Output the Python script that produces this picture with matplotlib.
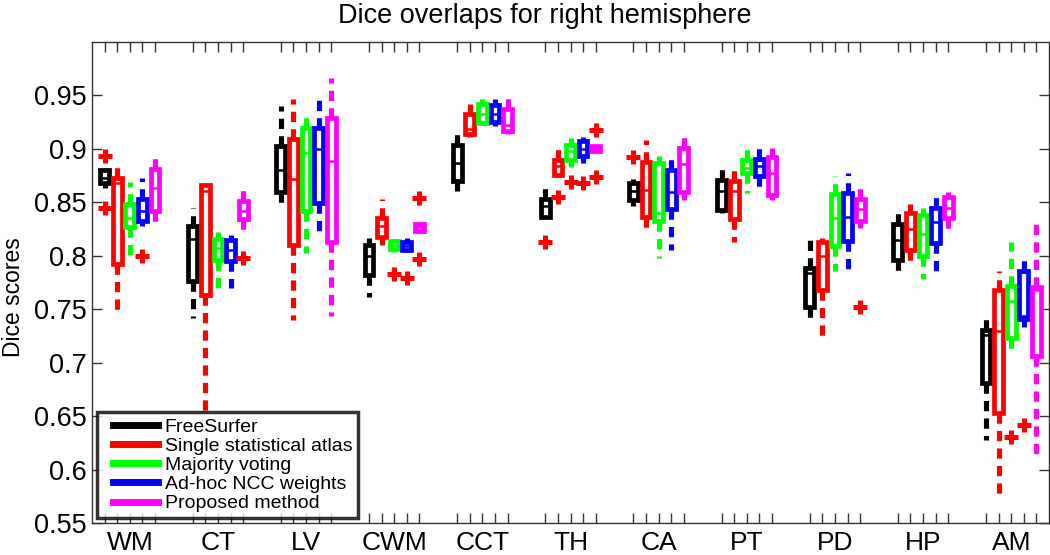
import matplotlib
matplotlib.use("Agg")
import matplotlib.pyplot as plt
from matplotlib.lines import Line2D
from matplotlib.legend_handler import HandlerLine2D

plt.rcParams['font.family'] = ['Liberation Sans', 'DejaVu Sans']

structures = ['WM', 'CT', 'LV', 'CWM', 'CCT', 'TH', 'CA', 'PT', 'PD', 'HP', 'AM']
methods = ['FreeSurfer', 'Single statistical atlas', 'Majority voting',
           'Ad-hoc NCC weights', 'Proposed method']
colors = ['#000000', '#ff0000', '#00ff00', '#0000ff', '#ff00ff']

# [whisker low, q1, median, q3, whisker high] per structure
freesurfer = [
    [0.863, 0.868, 0.873, 0.880, 0.882],
    [0.742, 0.776, 0.816, 0.828, 0.845],
    [0.849, 0.860, 0.880, 0.903, 0.940],
    [0.761, 0.782, 0.800, 0.810, 0.817],
    [0.861, 0.870, 0.887, 0.904, 0.914],
    [0.835, 0.836, 0.847, 0.853, 0.866],
    [0.847, 0.852, 0.861, 0.868, 0.872],
    [0.840, 0.843, 0.861, 0.871, 0.884],
    [0.740, 0.752, 0.784, 0.789, 0.817],
    [0.783, 0.796, 0.815, 0.830, 0.843],
    [0.628, 0.681, 0.726, 0.731, 0.746],
]
single_atlas = [
    [0.749, 0.792, 0.868, 0.873, 0.886],
    [0.655, 0.763, 0.861, 0.866, 0.868],
    [0.740, 0.810, 0.872, 0.909, 0.947],
    [0.810, 0.818, 0.828, 0.835, 0.853],
    [0.911, 0.914, 0.919, 0.933, 0.942],
    [0.875, 0.876, 0.884, 0.890, 0.903],
    [0.826, 0.836, 0.862, 0.888, 0.908],
    [0.813, 0.834, 0.861, 0.870, 0.881],
    [0.721, 0.768, 0.800, 0.813, 0.817],
    [0.790, 0.805, 0.825, 0.840, 0.848],
    [0.576, 0.653, 0.730, 0.768, 0.786],
]
majority = [
    [0.795, 0.827, 0.835, 0.848, 0.869],
    [0.770, 0.796, 0.807, 0.816, 0.822],
    [0.803, 0.842, 0.896, 0.920, 0.934],
    [0.804, 0.806, 0.810, 0.814, 0.816],
    [0.922, 0.924, 0.933, 0.942, 0.947],
    [0.883, 0.890, 0.898, 0.904, 0.910],
    [0.798, 0.833, 0.840, 0.887, 0.893],
    [0.859, 0.877, 0.882, 0.890, 0.903],
    [0.786, 0.809, 0.835, 0.858, 0.875],
    [0.778, 0.800, 0.820, 0.838, 0.845],
    [0.709, 0.723, 0.758, 0.772, 0.813],
]
adhoc_ncc = [
    [0.828, 0.833, 0.842, 0.853, 0.873],
    [0.770, 0.795, 0.805, 0.815, 0.819],
    [0.817, 0.849, 0.900, 0.920, 0.948],
    [0.804, 0.805, 0.809, 0.813, 0.817],
    [0.921, 0.925, 0.933, 0.941, 0.947],
    [0.887, 0.893, 0.900, 0.907, 0.911],
    [0.805, 0.844, 0.860, 0.880, 0.896],
    [0.859, 0.875, 0.884, 0.891, 0.903],
    [0.788, 0.814, 0.836, 0.859, 0.877],
    [0.785, 0.812, 0.832, 0.845, 0.855],
    [0.733, 0.741, 0.744, 0.786, 0.800],
]
proposed = [
    [0.828, 0.842, 0.863, 0.881, 0.892],
    [0.822, 0.834, 0.842, 0.851, 0.863],
    [0.744, 0.813, 0.889, 0.929, 0.966],
    [0.822, 0.823, 0.827, 0.830, 0.831],
    [0.914, 0.917, 0.922, 0.937, 0.948],
    [0.897, 0.898, 0.900, 0.903, 0.904],
    [0.852, 0.860, 0.886, 0.901, 0.917],
    [0.852, 0.857, 0.877, 0.892, 0.901],
    [0.826, 0.833, 0.844, 0.853, 0.868],
    [0.825, 0.835, 0.845, 0.855, 0.860],
    [0.615, 0.706, 0.768, 0.771, 0.833],
]
all_stats = [freesurfer, single_atlas, majority, adhoc_ncc, proposed]

# outliers: (structure index, method index, value)
outliers = [
    (0, 0, 0.893), (0, 0, 0.845), (0, 3, 0.800),
    (1, 4, 0.798),
    (3, 2, 0.783), (3, 3, 0.779), (3, 4, 0.854), (3, 4, 0.797),
    (5, 0, 0.813), (5, 1, 0.855), (5, 2, 0.869), (5, 3, 0.868),
    (5, 4, 0.874), (5, 4, 0.918),
    (6, 0, 0.892),
    (8, 4, 0.752),
    (10, 2, 0.630), (10, 3, 0.642),
]

fig = plt.figure(figsize=(10.5, 5.55), dpi=100)
ax = fig.add_axes([92 / 1050, 32 / 555, 957 / 1050, 481 / 555])

n_methods = len(methods)
group_step = n_methods + 2
for m, (stats_m, col) in enumerate(zip(all_stats, colors)):
    positions = []
    bstats = []
    for g, row in enumerate(stats_m):
        lo, q1, med, q3, hi = row
        fl = [v for (gi, mi, v) in outliers if gi == g and mi == m]
        bstats.append(dict(whislo=lo, q1=q1, med=med, q3=q3, whishi=hi, fliers=fl))
        positions.append(g * group_step + m + 1)
    ax.bxp(bstats, positions=positions, widths=0.7, patch_artist=True,
           showcaps=False, manage_ticks=False,
           boxprops=dict(facecolor='white', edgecolor=col, linewidth=3.4),
           whiskerprops=dict(color=col, linewidth=3.7, linestyle=(0, (2.0, 1.4))),
           medianprops=dict(color=col, linewidth=1.8),
           flierprops=dict(marker='+', markeredgecolor='#ff0000', markersize=9.5,
                           markeredgewidth=3.6, linestyle='none'))

ax.set_xlim(0, len(structures) * group_step - 1)
ax.set_ylim(0.55, 1.0)

ticks = []
labels = []
for g, name in enumerate(structures):
    for m in range(n_methods):
        ticks.append(g * group_step + m + 1)
        labels.append(name if m == n_methods // 2 else '')
ax.set_xticks(ticks)
ax.set_xticklabels(labels, fontsize=19)
ax.set_yticks([0.55, 0.6, 0.65, 0.7, 0.75, 0.8, 0.85, 0.9, 0.95])
ax.set_yticklabels(['0.55', '0.6', '0.65', '0.7', '0.75', '0.8', '0.85', '0.9', '0.95'],
                   fontsize=19.5)
ax.tick_params(axis='both', direction='in', length=7, width=1.0, color='#333333',
               top=True, right=True)
ax.tick_params(axis='x', pad=6)
ax.tick_params(axis='y', pad=4)
for sp in ax.spines.values():
    sp.set_linewidth(1.0)
    sp.set_color('#333333')

ax.set_ylabel('Dice scores', fontsize=16.5)
ax.yaxis.set_label_coords(-0.070, 0.469)
fig.text(545 / 1050, 1 - 16 / 555, 'Dice overlaps for right hemisphere',
         ha='center', va='center', fontsize=19.5)

handles = [Line2D([0], [0], color=c, linewidth=5) for c in colors]
hmap = {h: HandlerLine2D(xpad=0.55) for h in handles}
leg = ax.legend(handles, methods, loc='lower left', bbox_to_anchor=(0.005, 0.01),
                fontsize=14, frameon=True, fancybox=False, handlelength=2.85,
                handletextpad=0.35, labelspacing=0.08, borderpad=0.3,
                borderaxespad=0, handler_map=hmap)
leg.get_frame().set_edgecolor('black')
leg.get_frame().set_linewidth(2.5)

fig.savefig('out.png', dpi=100)
